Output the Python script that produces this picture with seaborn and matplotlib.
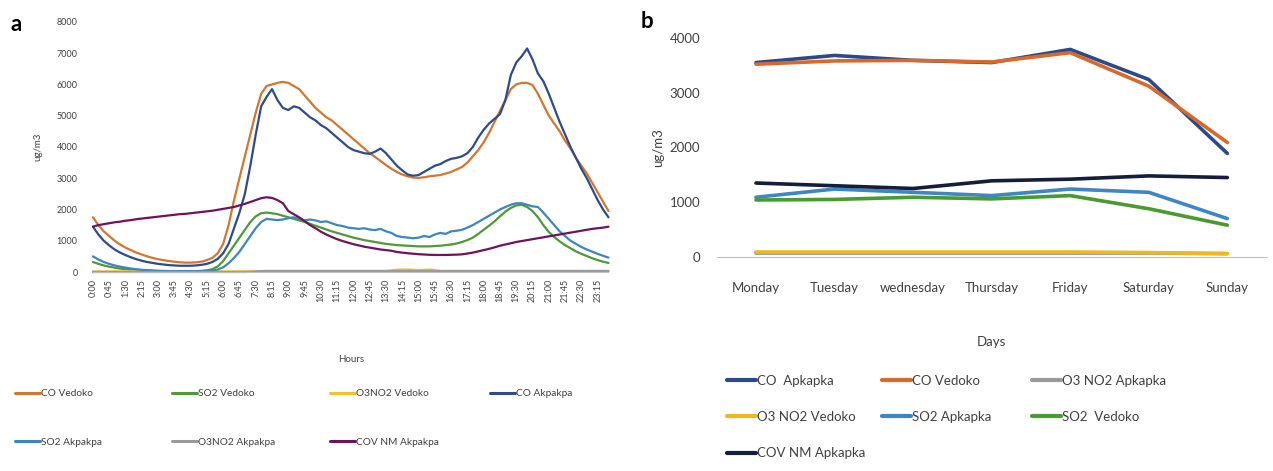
import pandas as pd
import matplotlib
matplotlib.use("Agg")
import matplotlib.pyplot as plt
import seaborn as sns

# ---------------- panel a : 15-min profile ----------------
times = [f"{h}:{m:02d}" for h in range(24) for m in (0, 15, 30, 45)]

co_vedoko = [1750, 1500, 1300, 1150, 1000, 880, 780, 700, 620, 560, 500, 450,
             410, 380, 350, 330, 310, 300, 300, 310, 330, 380, 450, 600,
             900, 1500, 2300, 3000, 3700, 4400, 5100, 5700, 5950, 6000, 6050, 6080,
             6050, 5950, 5850, 5650, 5450, 5250, 5100, 4950, 4850, 4700, 4550, 4400,
             4250, 4100, 3950, 3800, 3680, 3550, 3420, 3300, 3200, 3120, 3060, 3020,
             3010, 3030, 3060, 3080, 3100, 3150, 3200, 3280, 3360, 3500, 3700, 3900,
             4150, 4450, 4800, 5150, 5500, 5850, 6000, 6050, 6050, 5980, 5700, 5350,
             5000, 4750, 4500, 4200, 3950, 3650, 3400, 3150, 2850, 2550, 2250, 1950]
so2_vedoko = [320, 260, 210, 170, 140, 110, 90, 70, 60, 50, 40, 35,
              30, 25, 25, 20, 20, 20, 20, 25, 30, 50, 90, 180,
              350, 600, 850, 1100, 1350, 1600, 1780, 1880, 1900, 1880, 1850, 1800,
              1750, 1700, 1650, 1600, 1540, 1480, 1420, 1360, 1300, 1250, 1200, 1150,
              1100, 1060, 1020, 990, 960, 930, 900, 880, 860, 850, 840, 830,
              820, 820, 820, 830, 840, 860, 880, 910, 960, 1020, 1100, 1220,
              1350, 1480, 1620, 1780, 1930, 2050, 2130, 2150, 2080, 1950, 1750, 1500,
              1280, 1120, 980, 860, 760, 660, 580, 510, 440, 380, 330, 290]
o3no2_vedoko = [20, 20, 20, 20, 20, 20, 20, 20, 20, 20, 20, 20,
                20, 20, 20, 20, 20, 20, 20, 20, 20, 20, 20, 20,
                20, 20, 20, 20, 20, 20, 20, 20, 20, 20, 20, 20,
                20, 20, 20, 20, 20, 20, 20, 20, 20, 20, 20, 20,
                20, 20, 20, 20, 20, 20, 30, 50, 70, 80, 80, 70,
                60, 70, 80, 60, 30, 20, 20, 20, 20, 20, 20, 20,
                20, 20, 20, 20, 20, 20, 20, 20, 20, 20, 20, 20,
                20, 20, 20, 20, 20, 20, 20, 20, 20, 20, 20, 20]
co_akpakpa = [1450, 1200, 1000, 850, 720, 620, 540, 470, 410, 360, 320, 290,
              260, 240, 220, 210, 200, 200, 200, 210, 230, 260, 320, 420,
              600, 900, 1400, 1900, 2500, 3400, 4400, 5300, 5600, 5850, 5500, 5250,
              5180, 5300, 5250, 5100, 4950, 4850, 4700, 4600, 4450, 4300, 4150, 4000,
              3900, 3850, 3800, 3780, 3850, 3950, 3800, 3600, 3400, 3250, 3120, 3080,
              3100, 3200, 3300, 3400, 3450, 3550, 3620, 3650, 3700, 3800, 4000, 4300,
              4550, 4750, 4900, 5050, 5500, 6300, 6700, 6900, 7150, 6800, 6350, 6100,
              5700, 5250, 4800, 4400, 4000, 3650, 3300, 3000, 2650, 2300, 2000, 1750]
so2_akpakpa = [500, 400, 320, 260, 210, 170, 140, 110, 90, 70, 60, 50,
               40, 35, 30, 30, 30, 30, 30, 30, 35, 40, 50, 80,
               150, 280, 450, 650, 900, 1150, 1400, 1600, 1700, 1680, 1660, 1680,
               1720, 1750, 1700, 1650, 1680, 1650, 1600, 1620, 1560, 1500, 1470, 1420,
               1400, 1380, 1400, 1360, 1340, 1380, 1300, 1250, 1150, 1120, 1100, 1080,
               1100, 1150, 1120, 1200, 1250, 1220, 1300, 1320, 1350, 1420, 1500, 1600,
               1700, 1800, 1900, 2000, 2080, 2150, 2200, 2200, 2150, 2100, 2080, 1900,
               1700, 1500, 1300, 1150, 1000, 900, 800, 720, 650, 580, 520, 460]
o3no2_akpakpa = [0, 0, 0, 0, 0, 0, 0, 0, 0, 0, 0, 0,
                 0, 0, 0, 0, 0, 0, 0, 0, 0, 0, 0, 0,
                 0, 0, 0, 0, 0, 10, 20, 30, 35, 35, 35, 35,
                 35, 35, 35, 35, 35, 35, 35, 35, 35, 35, 35, 35,
                 35, 35, 35, 35, 35, 35, 35, 35, 35, 35, 35, 35,
                 35, 35, 35, 35, 35, 35, 35, 35, 35, 35, 35, 35,
                 35, 35, 35, 35, 35, 35, 35, 35, 35, 35, 35, 35,
                 35, 35, 35, 35, 35, 35, 35, 35, 35, 35, 35, 35]
cov_nm_akpakpa = [1450, 1500, 1530, 1560, 1590, 1610, 1640, 1660, 1690, 1710, 1730, 1750,
                  1770, 1790, 1810, 1830, 1850, 1860, 1880, 1900, 1920, 1940, 1960, 1990,
                  2020, 2050, 2080, 2130, 2180, 2240, 2300, 2360, 2390, 2370, 2300, 2200,
                  1950, 1850, 1750, 1630, 1500, 1400, 1290, 1200, 1120, 1050, 990, 940,
                  890, 850, 810, 780, 750, 720, 700, 680, 640, 620, 600, 585,
                  570, 560, 550, 545, 545, 545, 550, 555, 565, 590, 620, 660,
                  700, 740, 790, 840, 880, 920, 960, 990, 1020, 1050, 1080, 1110,
                  1140, 1170, 1200, 1230, 1260, 1290, 1320, 1350, 1380, 1400, 1420, 1450]

series_a = {
    "CO Vedoko": co_vedoko,
    "SO2 Vedoko": so2_vedoko,
    "O3NO2 Vedoko": o3no2_vedoko,
    "CO Akpakpa": co_akpakpa,
    "SO2 Akpakpa": so2_akpakpa,
    "O3NO2 Akpakpa": o3no2_akpakpa,
    "COV NM Akpakpa": cov_nm_akpakpa,
}
colors_a = {
    "CO Vedoko": "#d2772f",
    "SO2 Vedoko": "#4f9a36",
    "O3NO2 Vedoko": "#f2c12e",
    "CO Akpakpa": "#2c4c8c",
    "SO2 Akpakpa": "#3d86c0",
    "O3NO2 Akpakpa": "#9a9a9a",
    "COV NM Akpakpa": "#70125e",
}

# ---------------- panel b : weekly profile ----------------
days = ["Monday", "Tuesday", "wednesday", "Thursday", "Friday", "Saturday", "Sunday"]
co_apkapka_w = [3550, 3680, 3590, 3550, 3790, 3240, 1890]
co_vedoko_w = [3520, 3580, 3590, 3560, 3730, 3120, 2090]
o3no2_apkapka_w = [70, 70, 70, 70, 70, 70, 60]
o3no2_vedoko_w = [90, 90, 90, 90, 90, 80, 60]
so2_apkapka_w = [1090, 1240, 1180, 1120, 1240, 1180, 700]
so2_vedoko_w = [1040, 1050, 1090, 1060, 1120, 880, 580]
cov_nm_apkapka_w = [1350, 1300, 1250, 1390, 1420, 1480, 1450]

series_b = {
    "CO  Apkapka": co_apkapka_w,
    "CO Vedoko": co_vedoko_w,
    "O3 NO2 Apkapka": o3no2_apkapka_w,
    "O3 NO2 Vedoko": o3no2_vedoko_w,
    "SO2 Apkapka": so2_apkapka_w,
    "SO2  Vedoko": so2_vedoko_w,
    "COV NM Apkapka": cov_nm_apkapka_w,
}
colors_b = {
    "CO  Apkapka": "#2a4a88",
    "CO Vedoko": "#d9692a",
    "O3 NO2 Apkapka": "#9a9a9a",
    "O3 NO2 Vedoko": "#f0b81c",
    "SO2 Apkapka": "#3f86c4",
    "SO2  Vedoko": "#4a9a32",
    "COV NM Apkapka": "#141d3a",
}

# long-form tables
df_a = pd.concat([pd.DataFrame({"idx": range(len(times)), "value": v, "series": k})
                  for k, v in series_a.items()], ignore_index=True)
df_b = pd.concat([pd.DataFrame({"day": range(len(days)), "value": v, "series": k})
                  for k, v in series_b.items()], ignore_index=True)

sns.set_style("white")
plt.rcParams["font.family"] = ["Lato", "DejaVu Sans"]
txt = "#404040"
W = 1273

fig = plt.figure(figsize=(12.73, 4.71), dpi=100)
ax_a = fig.add_axes([0.073, 0.4225, 0.405, 0.531])
ax_b = fig.add_axes([0.563, 0.4545, 0.432, 0.465])

sns.lineplot(data=df_a, x="idx", y="value", hue="series", palette=colors_a,
             hue_order=list(series_a), linewidth=1.6, ax=ax_a, legend=False)
ax_a.set_xlim(0, len(times) - 1)
ax_a.set_ylim(0, 8000)
ax_a.set_yticks(range(0, 8001, 1000))
ax_a.set_xticks(range(0, len(times), 3))
ax_a.set_xticklabels(times[::3], rotation=90, fontsize=6.5, color=txt)
ax_a.tick_params(axis="y", labelsize=6.5, colors=txt, length=0, pad=11)
ax_a.tick_params(axis="x", length=0, pad=5)
for s in ["top", "right", "left"]:
    ax_a.spines[s].set_visible(False)
ax_a.spines["bottom"].set_color("#bfbfbf")
ax_a.set_xlabel("Hours", fontsize=7, color=txt, labelpad=38)
ax_a.set_ylabel("ug/m3", fontsize=7, color=txt, labelpad=10)

sns.lineplot(data=df_b, x="day", y="value", hue="series", palette=colors_b,
             hue_order=list(series_b), linewidth=2.6, ax=ax_b, legend=False)
ax_b.set_xlim(-0.5, 6.5)
ax_b.set_ylim(0, 4000)
ax_b.set_yticks(range(0, 4001, 1000))
ax_b.set_xticks(range(len(days)))
ax_b.set_xticklabels(days, fontsize=9.5, color=txt)
ax_b.tick_params(axis="y", labelsize=9.5, colors=txt, length=0, pad=12)
ax_b.tick_params(axis="x", length=0, pad=18)
for s in ["top", "right", "left"]:
    ax_b.spines[s].set_visible(False)
ax_b.spines["bottom"].set_color("#bfbfbf")
ax_b.set_xlabel("Days", fontsize=9.5, color=txt, labelpad=30)
ax_b.set_ylabel("ug/m3", fontsize=9.5, color=txt, labelpad=4)
for ax in (ax_a, ax_b):
    for line in ax.get_lines():
        line.set_clip_on(False)


# legends: one small legend per column so the columns sit where Excel put them
def column_legends(names, colors, ncol, xs_px, y_top, lw, **kw):
    for c, x in enumerate(xs_px):
        col = names[c::ncol]
        hs = [plt.Line2D([], [], color=colors[n], lw=lw) for n in col]
        fig.legend(hs, col, loc="upper left", bbox_to_anchor=(x / W, y_top),
                   frameon=False, handletextpad=0.05, labelcolor=txt, **kw)


column_legends(list(series_a), colors_a, 4, [6, 163, 321, 481], 0.193, 2.2,
               fontsize=7.3, handlelength=2.5, labelspacing=3.9)
column_legends(list(series_b), colors_b, 3, [715, 870, 1020], 0.23, 3,
               fontsize=9.5, handlelength=2.2, labelspacing=1.85)

fig.text(0.008, 0.935, "a", fontsize=16, fontweight="bold", color="black")
fig.text(0.503, 0.94, "b", fontsize=16, fontweight="bold", color="black")

fig.savefig("out.png", dpi=100, facecolor="white")
